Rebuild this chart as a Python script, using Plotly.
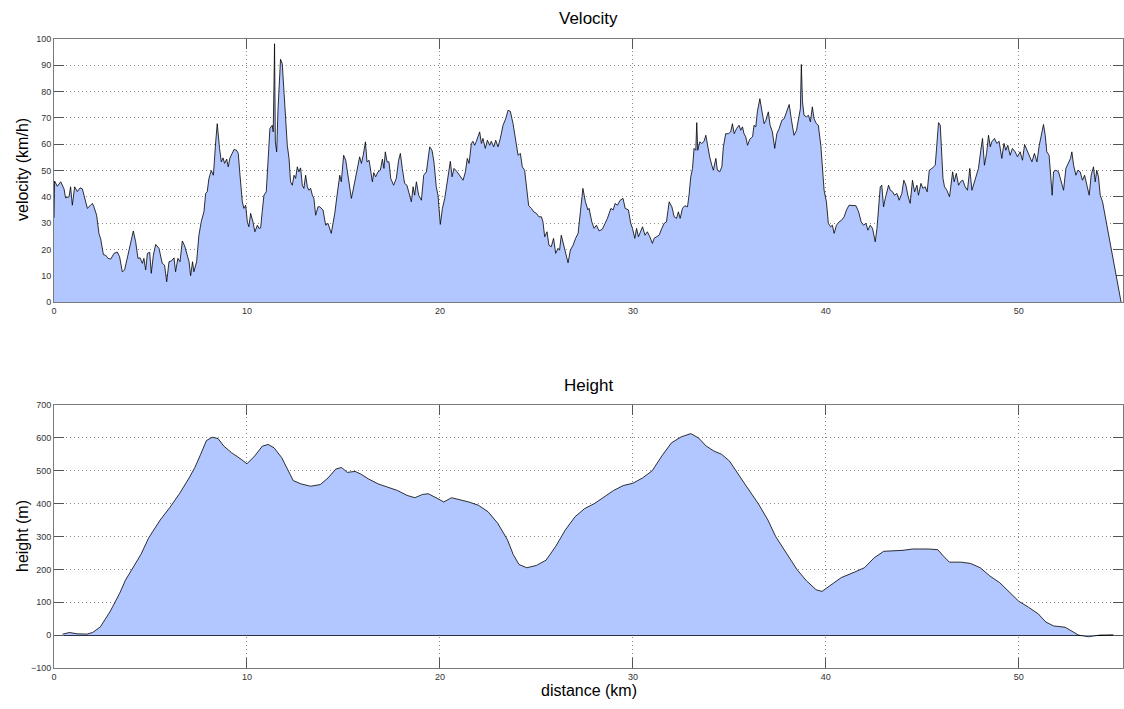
import plotly.graph_objects as go

# ---- Velocity data (distance km, velocity km/h) ----
vel_km = [0.0, 0.03, 0.17, 0.35, 0.52, 0.6, 0.78, 0.86, 0.95, 1.07, 1.21, 1.35, 1.47, 1.55, 1.73, 1.87, 1.99, 2.07, 2.21, 2.33,
          2.42, 2.56, 2.68, 2.8, 2.94, 3.11, 3.28, 3.4, 3.54, 3.66, 3.83, 3.97, 4.11, 4.23, 4.35, 4.46, 4.58, 4.66, 4.75, 4.84,
          4.96, 5.04, 5.15, 5.27, 5.44, 5.61, 5.73, 5.84, 5.96, 6.08, 6.22, 6.3, 6.42, 6.53, 6.65, 6.77, 6.87, 7.0, 7.08, 7.18,
          7.25, 7.39, 7.51, 7.63, 7.77, 7.86, 7.94, 8.03, 8.15, 8.26, 8.38, 8.46, 8.58, 8.67, 8.76, 8.84, 8.95, 9.03, 9.12, 9.24,
          9.33, 9.46, 9.55, 9.64, 9.76, 9.84, 9.93, 10.02, 10.1, 10.19, 10.31, 10.41, 10.54, 10.62, 10.71, 10.79, 10.88, 11.0, 11.09, 11.19,
          11.31, 11.36, 11.4, 11.43, 11.47, 11.54, 11.61, 11.68, 11.74, 11.83, 11.92, 12.0, 12.09, 12.18, 12.26, 12.35, 12.44, 12.52, 12.61, 12.69,
          12.78, 12.87, 12.95, 13.04, 13.13, 13.21, 13.3, 13.39, 13.47, 13.56, 13.68, 13.77, 13.94, 14.08, 14.2, 14.37, 14.55, 14.67, 14.81, 14.89,
          15.01, 15.12, 15.24, 15.41, 15.5, 15.58, 15.67, 15.76, 15.84, 15.93, 16.02, 16.14, 16.22, 16.33, 16.45, 16.5, 16.57, 16.67, 16.79, 16.91,
          17.02, 17.1, 17.17, 17.26, 17.36, 17.45, 17.6, 17.74, 17.86, 17.95, 18.05, 18.17, 18.29, 18.43, 18.52, 18.61, 18.69, 18.78, 18.9, 19.04,
          19.16, 19.3, 19.38, 19.47, 19.59, 19.69, 19.81, 19.9, 20.02, 20.13, 20.25, 20.37, 20.54, 20.63, 20.73, 20.89, 21.02, 21.2, 21.32, 21.42,
          21.51, 21.63, 21.71, 21.8, 21.89, 21.97, 22.06, 22.15, 22.23, 22.35, 22.46, 22.58, 22.66, 22.79, 22.89, 23.01, 23.13, 23.27, 23.41, 23.53,
          23.65, 23.79, 23.93, 24.05, 24.17, 24.27, 24.39, 24.48, 24.6, 24.74, 24.86, 25.0, 25.13, 25.26, 25.34, 25.43, 25.55, 25.65, 25.77, 25.89,
          26.0, 26.12, 26.2, 26.29, 26.41, 26.55, 26.64, 26.76, 26.9, 27.03, 27.16, 27.28, 27.41, 27.54, 27.67, 27.73, 27.87, 27.99, 28.11, 28.25,
          28.42, 28.56, 28.68, 28.86, 28.98, 29.08, 29.2, 29.34, 29.49, 29.6, 29.77, 29.89, 29.98, 30.1, 30.19, 30.29, 30.41, 30.5, 30.63, 30.75,
          30.88, 31.01, 31.1, 31.22, 31.36, 31.5, 31.62, 31.74, 31.88, 32.02, 32.14, 32.26, 32.36, 32.45, 32.57, 32.69, 32.83, 32.91, 33.0, 33.09,
          33.17, 33.26, 33.31, 33.36, 33.47, 33.57, 33.69, 33.78, 33.88, 33.98, 34.09, 34.17, 34.3, 34.38, 34.5, 34.61, 34.69, 34.81, 34.95, 35.07,
          35.16, 35.25, 35.37, 35.5, 35.59, 35.68, 35.76, 35.85, 35.94, 36.06, 36.2, 36.28, 36.37, 36.45, 36.58, 36.68, 36.8, 36.89, 37.02, 37.11,
          37.23, 37.35, 37.46, 37.58, 37.72, 37.84, 37.96, 38.1, 38.22, 38.35, 38.48, 38.58, 38.68, 38.73, 38.79, 38.87, 38.99, 39.1, 39.2, 39.3,
          39.39, 39.51, 39.61, 39.74, 39.82, 39.91, 40.03, 40.13, 40.25, 40.34, 40.43, 40.55, 40.69, 40.82, 40.95, 41.07, 41.2, 41.35, 41.56, 41.7,
          41.83, 41.95, 42.08, 42.18, 42.3, 42.42, 42.49, 42.56, 42.65, 42.73, 42.82, 42.9, 42.99, 43.08, 43.16, 43.25, 43.34, 43.46, 43.56, 43.68,
          43.8, 43.94, 44.04, 44.15, 44.25, 44.37, 44.49, 44.6, 44.72, 44.8, 44.93, 45.03, 45.15, 45.25, 45.36, 45.5, 45.67, 45.75, 45.84, 45.93,
          46.01, 46.07, 46.15, 46.27, 46.41, 46.5, 46.57, 46.65, 46.76, 46.88, 47.0, 47.1, 47.22, 47.34, 47.46, 47.57, 47.67, 47.79, 47.91, 48.03,
          48.12, 48.22, 48.33, 48.43, 48.52, 48.6, 48.74, 48.86, 48.98, 49.12, 49.23, 49.33, 49.43, 49.55, 49.67, 49.81, 49.93, 50.07, 50.19, 50.3,
          50.42, 50.54, 50.68, 50.81, 50.94, 51.06, 51.16, 51.28, 51.37, 51.45, 51.57, 51.66, 51.73, 51.8, 51.92, 52.06, 52.2, 52.32, 52.44, 52.58,
          52.68, 52.75, 52.84, 52.96, 53.06, 53.18, 53.3, 53.41, 53.53, 53.65, 53.75, 53.87, 53.96, 54.04, 54.13, 54.22, 54.34, 54.65, 55.0, 55.3]

vel_kmh = [32, 46, 44, 45.7, 43, 39.6, 40, 43.8, 36.8, 43.8, 42, 43.4, 43, 41, 35.6, 36.6, 37.5, 36.2, 33, 26,
           24, 18, 17.8, 16.6, 16.3, 18.5, 19, 17.2, 11.5, 12.2, 17.8, 22.3, 27, 23, 16.6, 16.8, 14.7, 16.6, 12.2, 18.5,
           18.9, 10.9, 17.8, 21.9, 20.4, 14.7, 14, 7.7, 15.3, 15.6, 16.8, 11.5, 16.6, 15.3, 23.2, 21.4, 19.1, 15.3, 10, 15.3,
           11.5, 15.3, 25.4, 30.5, 34.3, 41.3, 41.9, 47, 50, 48.2, 60.9, 67.8, 58.4, 53.3, 54.8, 52.7, 54.3, 51.4, 54.8, 57,
           58, 57.7, 56.5, 48.2, 38.1, 35.6, 36.8, 30.5, 28.6, 33.7, 30.5, 26.7, 29.2, 28, 28.2, 34.3, 40.6, 41.9, 53.3, 66,
           67.2, 64.7, 82.4, 98.2, 60.9, 57.1, 73.5, 82.4, 92.3, 90.6, 79.9, 66, 59.6, 54.6, 45.7, 44.4, 48.2, 47, 51.4, 49.5,
           51, 44.4, 43.2, 48.2, 43.8, 42.5, 43.2, 40.6, 39.4, 33, 36.2, 36.2, 35, 29.2, 29.9, 26.1, 33.7, 40.6, 48.2, 45.7,
           55.8, 53.9, 47, 39.4, 42.5, 45.7, 48.2, 53.3, 55.2, 52.7, 55.6, 60.9, 53.3, 53.9, 48.2, 45.7, 49.2, 47.6, 49.5, 50.1,
           54.3, 50.8, 57.1, 53.3, 53.3, 47, 44.4, 47, 53.9, 56.5, 50.8, 45.1, 44.4, 40.6, 38.1, 43.8, 40.6, 45.7, 40.6, 38.7,
           48.2, 49.5, 54.6, 59, 57.7, 53.3, 43.8, 40.6, 29.5, 35.6, 39.4, 45.7, 53.5, 47.6, 50.8, 49.5, 48, 46.3, 49.5, 54.6,
           52.7, 60.3, 61.1, 59.6, 61.1, 62.8, 64.7, 60.3, 62.2, 58.4, 61.5, 59.6, 61.1, 59, 61.5, 59, 62.2, 67.2, 69.7, 72.9,
           72.5, 67.8, 60.9, 55.8, 56.5, 51.4, 50.1, 43.2, 36.6, 35.6, 34.3, 33.7, 32.4, 32.4, 30.5, 24.8, 26.7, 21.6, 21, 24.2,
           18.5, 20.4, 19.7, 25.4, 21.6, 17.2, 14.9, 19.7, 21.6, 24.2, 26.1, 34.3, 43.2, 38.1, 35, 35.6, 30.5, 28, 29.2, 27,
           27.7, 29.9, 31.8, 35.6, 35, 37.5, 36.8, 38.7, 39.4, 35.6, 35, 29.9, 28, 24.2, 28, 24.8, 26.7, 28.6, 25.4, 26.7,
           24.8, 22.3, 24.2, 24.8, 25.4, 28, 29.9, 30.5, 38.1, 36.2, 32.4, 31.8, 34.3, 31.8, 35.6, 36.6, 36.2, 40.6, 47.6, 50.8,
           58.4, 57.7, 68.2, 57.7, 60.9, 60.3, 61.1, 63.4, 58.4, 55.2, 52, 50.1, 54.6, 50.1, 49.5, 51.4, 59, 64, 64, 64.7,
           67.8, 64, 65.9, 67.2, 65.3, 66.6, 64, 62.8, 59.6, 61.9, 62.8, 67.2, 66.6, 72.3, 77.3, 72.3, 67.8, 69.1, 72.3, 67.2,
           64.7, 58.4, 64, 65.9, 69.1, 69.7, 72.3, 75.1, 69.1, 63.4, 65.3, 69.1, 73.5, 90.3, 76.1, 71, 70.4, 71, 68.5, 74.2,
           69.7, 67.8, 67.2, 59.6, 50.8, 42.5, 38.1, 29.9, 28.6, 29.2, 26.1, 29.2, 30.5, 31.1, 32.4, 35, 36.8, 36.8, 36.6, 34.3,
           30.5, 29.2, 29.9, 27.3, 29.2, 28, 24.8, 22.9, 28, 35.6, 43.8, 44.4, 36.2, 39.4, 41.9, 44.4, 42.5, 41.9, 40.6, 41.3,
           38.7, 41.3, 46.3, 44.4, 40.6, 37.5, 46.3, 41.9, 44.4, 40.6, 45.1, 43.2, 43.8, 41.9, 50.1, 50.8, 52, 59.6, 68.2, 67.2,
           57.1, 47, 43.8, 42.5, 40, 47, 49.5, 45.7, 48.9, 44.4, 45.9, 46.3, 43.8, 42.5, 50.8, 42.5, 45.1, 47.6, 50.8, 57.7,
           62.2, 52, 56.5, 63.4, 59, 60.9, 62.2, 60.3, 61.1, 54.6, 60.3, 57.7, 59.6, 55.8, 58.4, 57.1, 55.2, 57.1, 53.9, 59.9,
           57.7, 55.6, 53.3, 56.5, 53.3, 59.6, 63.4, 67.5, 63.4, 57.1, 55.8, 48.2, 40.6, 49.5, 50.1, 49.5, 45.7, 42.5, 50.8, 52.7,
           54.6, 57.1, 52, 48.2, 50.1, 49.5, 46.3, 48.2, 43.8, 40.6, 48.2, 51.4, 45.7, 50.1, 47.6, 40.6, 38.1, 25.4, 11.5, 0]

# ---- Height data (distance km, height m) ----
hgt_km = [0.45, 0.8, 1.2, 1.7, 2.0, 2.4, 2.9, 3.4, 3.7, 4.0, 4.5, 4.9, 5.5, 6.0, 6.5, 7.0, 7.3, 7.6, 7.9, 8.2,
          8.5, 8.8, 9.2, 9.7, 10.0, 10.4, 10.8, 11.1, 11.4, 11.8, 12.1, 12.4, 12.8, 13.3, 13.8, 14.2, 14.6, 14.9, 15.2, 15.6,
          15.9, 16.3, 16.8, 17.3, 17.8, 18.3, 18.7, 19.1, 19.4, 19.8, 20.2, 20.6, 21.0, 21.5, 22.0, 22.5, 23.0, 23.5, 23.8, 24.1,
          24.5, 25.0, 25.5, 26.0, 26.5, 27.0, 27.5, 28.0, 28.5, 29.0, 29.5, 30.0, 30.5, 31.0, 31.5, 32.0, 32.5, 33.0, 33.4, 33.8,
          34.2, 34.6, 35.0, 35.3, 35.8, 36.5, 37.0, 37.4, 38.0, 38.5, 39.0, 39.5, 39.8, 40.2, 40.8, 41.5, 42.0, 42.5, 43.0, 44.0,
          44.5, 45.3, 45.8, 46.1, 46.4, 47.0, 47.5, 48.0, 48.5, 49.0, 49.5, 50.0, 50.5, 51.0, 51.4, 51.8, 52.4, 52.8, 53.1, 53.6,
          54.2, 54.9]
hgt_m = [3, 8, 4, 3, 8, 25, 71, 127, 167, 197, 245, 295, 350, 388, 430, 478, 510, 550, 592, 602,
         598, 575, 555, 535, 521, 545, 575, 580, 570, 540, 505, 470, 460, 453, 458, 478, 505, 510, 495, 498,
         490, 475, 460, 450, 440, 425, 418, 428, 430, 418, 405, 418, 412, 405, 395, 375, 340, 290, 245, 215,
         205, 212, 228, 270, 320, 360, 385, 400, 420, 440, 455, 462, 478, 500, 545, 585, 603, 613, 600, 575,
         560, 550, 530, 505, 460, 400, 350, 300, 245, 200, 165, 138, 133, 150, 175, 192, 205, 235, 255, 258,
         262, 262, 260, 240, 222, 222, 218, 205, 180, 160, 130, 103, 85, 65, 40, 28, 24, 11, 0, -5,
         0, 1]

x_ticks = [0, 10, 20, 30, 40, 50]
fill_col = "rgb(178,198,255)"
font_fam = "Liberation Sans, Arial, sans-serif"

fig = go.Figure()
fig.add_trace(go.Scatter(x=vel_km, y=vel_kmh, mode="lines", fill="tozeroy", fillcolor=fill_col,
                         line=dict(color="black", width=0.8), xaxis="x", yaxis="y", showlegend=False))
fig.add_trace(go.Scatter(x=hgt_km, y=hgt_m, mode="lines", fill="tozeroy", fillcolor=fill_col,
                         line=dict(color="black", width=0.8), xaxis="x2", yaxis="y2", showlegend=False))

axis_common = dict(showline=True, linecolor="#7a7a7a", linewidth=1, mirror="ticks", ticks="inside",
                   ticklen=10, tickcolor="#555555", tickwidth=1, showgrid=True, gridcolor="#8a8a8a",
                   griddash="1px,3px", gridwidth=1, layer="below traces", automargin=False,
                   tickfont=dict(family=font_fam, size=9, color="#333333"), zeroline=False)

W, H = 1124, 709
ML, MR, MT, MB = 54, 1, 39, 41
plot_h = H - MT - MB
plot_w = W - ML - MR

def py(pix):
    return (H - MB - pix) / plot_h

def px(pix):
    return (pix - ML) / plot_w

fig.update_layout(
    width=W, height=H,
    margin=dict(l=ML, r=MR, t=MT, b=MB, pad=0),
    paper_bgcolor="white", plot_bgcolor="white",
    xaxis=dict(axis_common, range=[0, 55.4], tickvals=x_ticks, domain=[0, 1], anchor="y"),
    yaxis=dict(axis_common, range=[0, 100], dtick=10, domain=[py(302), 1], anchor="x"),
    xaxis2=dict(axis_common, range=[0, 55.4], tickvals=x_ticks, domain=[0, 1], anchor="y2"),
    yaxis2=dict(axis_common, range=[-100, 700], dtick=100, domain=[0, py(405)], anchor="x2",
                zeroline=True, zerolinecolor="black", zerolinewidth=1),
)

fig.add_annotation(text="Velocity", x=0.5, y=py(18), xref="paper", yref="paper", showarrow=False,
                   yanchor="middle", font=dict(family=font_fam, size=17, color="black"))
fig.add_annotation(text="Height", x=0.5, y=py(386), xref="paper", yref="paper", showarrow=False,
                   yanchor="middle", font=dict(family=font_fam, size=17, color="black"))
fig.add_annotation(text="distance (km)", x=0.5, y=py(690), xref="paper", yref="paper", showarrow=False,
                   yanchor="middle", font=dict(family=font_fam, size=16, color="black"))
fig.add_annotation(text="velocity (km/h)", x=px(22), y=py(170), xref="paper", yref="paper",
                   showarrow=False, textangle=-90, xanchor="center", yanchor="middle",
                   font=dict(family=font_fam, size=16, color="black"))
fig.add_annotation(text="height (m)", x=px(22), y=py(536), xref="paper", yref="paper",
                   showarrow=False, textangle=-90, xanchor="center", yanchor="middle",
                   font=dict(family=font_fam, size=16, color="black"))

fig.write_html("out.html", config={"displayModeBar": False},
               post_script="document.body.style.margin='0';document.body.style.overflow='hidden';")
